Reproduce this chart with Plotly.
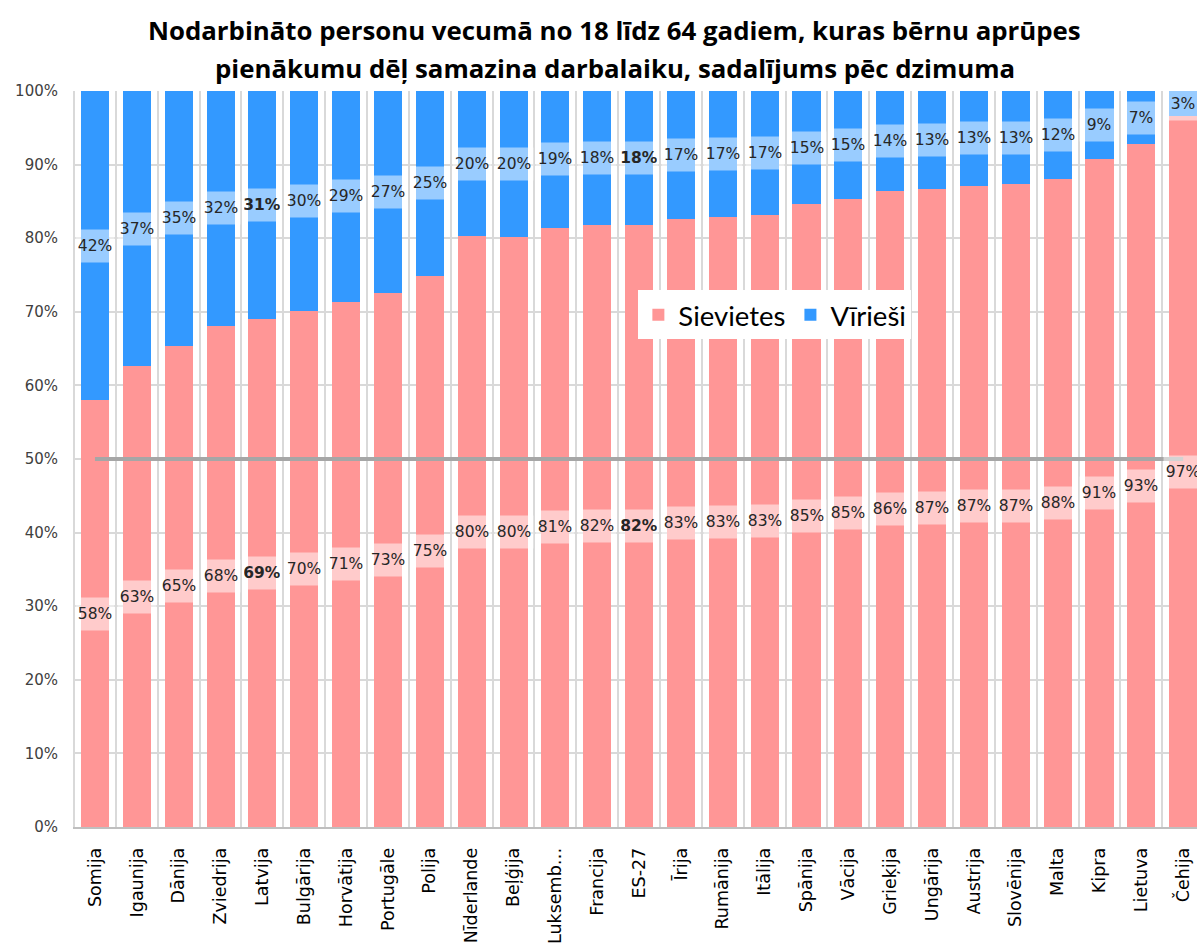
import plotly.graph_objects as go

# Countries ordered by the women's share
countries = ["Somija", "Igaunija", "Dānija", "Zviedrija", "Latvija", "Bulgārija",
             "Horvātija", "Portugāle", "Polija", "Nīderlande", "Beļģija", "Luksemb…",
             "Francija", "ES-27", "Īrija", "Rumānija", "Itālija", "Spānija", "Vācija",
             "Grieķija", "Ungārija", "Austrija", "Slovēnija", "Malta", "Kipra",
             "Lietuva", "Čehija"]

# Share of women (%) among those who cut working time for childcare
sievietes = [58.0, 62.6, 65.4, 68.1, 69.0, 70.1, 71.4, 72.6, 74.9, 80.3, 80.2, 81.4,
             81.8, 81.8, 82.6, 82.9, 83.2, 84.6, 85.3, 86.4, 86.7, 87.1, 87.3, 88.0,
             90.8, 92.8, 96.6]
# Share of men (%) - complement to 100
virieši = [round(100 - v, 1) for v in sievietes]

highlight = {"Latvija", "ES-27"}

title_lines = ["Nodarbināto personu vecumā no 18 līdz 64 gadiem, kuras bērnu aprūpes",
               "pienākumu dēļ samazina darbalaiku, sadalījums pēc dzimuma"]

PINK = "#FF9696"
BLUE = "#3399FF"
LABEL_FONT = "DejaVu Sans"
TITLE_FONT = "Open Sans"

fig = go.Figure()
fig.add_trace(go.Bar(x=countries, y=sievietes, name="Sievietes",
                     marker=dict(color=PINK, line=dict(width=0)), width=0.67))
fig.add_trace(go.Bar(x=countries, y=virieši, name="Vīrieši",
                     marker=dict(color=BLUE, line=dict(width=0)), width=0.67))

# 50 % reference line across the bars
fig.add_trace(go.Scatter(x=[countries[0], countries[-1]], y=[50, 50], mode="lines",
                         line=dict(color="#A6A6A6", width=4), showlegend=False,
                         hoverinfo="skip"))

annotations = []
for c, f, m in zip(countries, sievietes, virieši):
    for val, ymid in ((f, f / 2), (m, f + m / 2)):
        txt = f"{val:.0f}%"
        if c in highlight:
            txt = f"<b>{txt}</b>"
        annotations.append(dict(x=c, y=ymid, xref="x", yref="y", text=txt,
                                showarrow=False, width=36, height=30,
                                bgcolor="rgba(255,255,255,0.5)",
                                font=dict(family=LABEL_FONT, size=15.5, color="#262626")))

# Two-line bold title
for line, yy in zip(title_lines, (1.0829, 1.0313)):
    annotations.append(dict(x=0.482, y=yy, xref="paper", yref="paper", text=f"<b>{line}</b>",
                            showarrow=False, xanchor="center", yanchor="middle",
                            font=dict(family=TITLE_FONT, size=25.8, color="black")))

fig.update_layout(
    width=1197, height=951,
    margin=dict(l=73, r=0, t=91, b=124),
    paper_bgcolor="white", plot_bgcolor="white",
    barmode="stack",
    legend=dict(orientation="h", x=0.503, y=0.729, xanchor="left", yanchor="top",
                bgcolor="white", font=dict(family="Lato", size=27.5, color="black"),
                traceorder="normal"),
    annotations=annotations,
    showlegend=True,
)

fig.update_xaxes(type="category", range=[-0.525, 26.33], tickson="boundaries",
                 showgrid=True, gridcolor="#D9D9D9", gridwidth=1.5,
                 showline=True, linecolor="#BFBFBF", linewidth=1.5,
                 ticks="", tickangle=-90, ticklabelstandoff=12,
                 tickfont=dict(family=LABEL_FONT, size=17.5, color="black"))
fig.update_yaxes(range=[0, 100], dtick=10, ticksuffix="%",
                 showgrid=True, gridcolor="#D9D9D9", gridwidth=1.5,
                 zeroline=False, ticks="", ticklabelstandoff=14,
                 tickfont=dict(family=LABEL_FONT, size=15, color="#404040"))

fig.write_html("out.html")
